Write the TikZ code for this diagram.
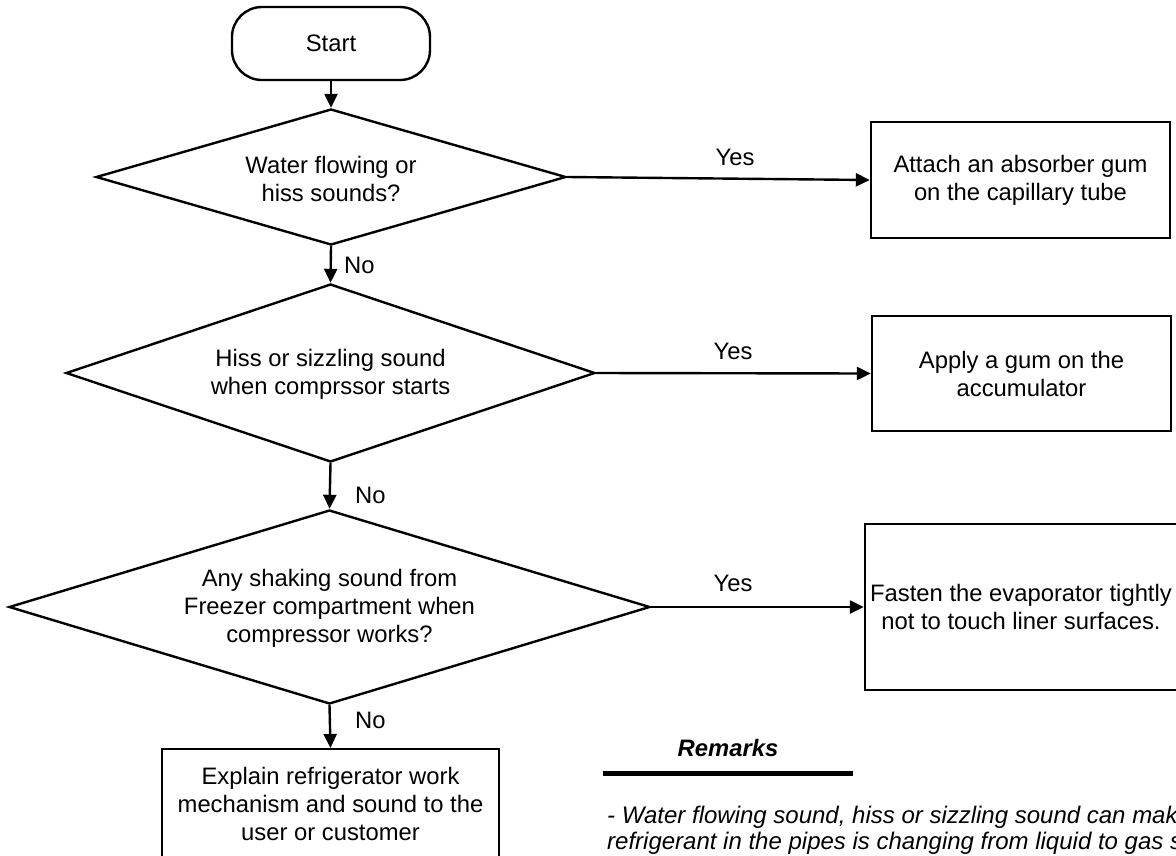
\documentclass[tikz,border=0pt]{standalone}
\usepackage{fontspec}
\setmainfont{Liberation Sans}
\usetikzlibrary{shapes.geometric,arrows.meta}
\tikzset{
  base/.style={font=\fontsize{23.8}{28}\selectfont},
  terminal/.style={base,draw,line width=2.4pt,rounded corners=30pt,minimum width=198pt,minimum height=73pt,inner sep=0pt},
  decision/.style={draw,diamond,line width=2.4pt,inner sep=0pt},
  procbox/.style={base,draw,line width=2.4pt,inner sep=0pt,align=center},
  txt/.style={base,align=center,inner sep=0pt},
  lbl/.style={base,inner sep=0pt},
  flow/.style={line width=2.4pt,-{Triangle[length=14pt,width=13pt]}},
}
\begin{document}
\begin{tikzpicture}[x=1pt,y=-1pt]
\useasboundingbox (0,0) rectangle (1176,855);
\clip (0,0) rectangle (1176,855);

\node[terminal] (start) at (331,43.5) {Start};

\node[decision,minimum width=470pt,minimum height=136pt] (d1) at (331,177) {};
\node[txt] (d1t) at (331,179) {Water flowing or\\hiss sounds?};

\node[decision,minimum width=529pt,minimum height=178pt] (d2) at (330.5,373) {};
\node[txt] (d2t) at (330.5,374) {Hiss or sizzling sound\\when comprssor starts};

\node[decision,minimum width=641pt,minimum height=194pt] (d3) at (329.5,607) {};
\node[txt] (d3t) at (329.5,608) {Any shaking sound from\\Freezer compartment when\\compressor works?};

\node[procbox,minimum width=299pt,minimum height=116pt] (b1) at (1020.5,180) {Attach an absorber gum\\on the capillary tube};
\node[procbox,minimum width=299pt,minimum height=115pt] (b2) at (1021.5,373.5) {Apply a gum on the\\accumulator};
\node[procbox,minimum width=312pt,minimum height=166pt] (b3) at (1021,607) {};
\node[txt] (b3t) at (1021,607) {Fasten the evaporator tightly\\not to touch liner surfaces.};
\node[procbox,minimum width=337pt,minimum height=140pt,anchor=north] (b4) at (330.5,748) {};
\node[txt] (b4t) at (330.5,804) {Explain refrigerator work\\mechanism and sound to the\\user or customer};

\draw[flow] (start.south) -- (d1.north);
\draw[flow] (d1.east) -- (b1.west);
\draw[flow] (d1.south) -- (d2.north);
\draw[flow] (d2.east) -- (b2.west);
\draw[flow] (d2.south) -- (d3.north);
\draw[flow] (d3.east) -- (b3.west);
\draw[flow] (d3.south) -- (b4.north);

\node[lbl] (y1) at (735,157) {Yes};
\node[lbl] (y2) at (733,351) {Yes};
\node[lbl] (y3) at (733,583) {Yes};
\node[lbl,anchor=west] (n1) at (344,265) {No};
\node[lbl,anchor=west] (n2) at (355,495) {No};
\node[lbl,anchor=west] (n3) at (355,720) {No};

\node[lbl,font=\fontsize{23.8}{28}\selectfont\bfseries\itshape] (rem) at (728,748) {Remarks};
\coordinate (rl) at (603,773);
\coordinate (rr) at (853,773);
\draw[line width=5pt] (rl) -- (rr);
\node[lbl,anchor=north west,align=left,font=\fontsize{24}{26}\selectfont\itshape] (remt) at (607,806)
  {- Water flowing sound, hiss or sizzling sound can make when the\\refrigerant in the pipes is changing from liquid to gas state.};
\end{tikzpicture}
\end{document}
